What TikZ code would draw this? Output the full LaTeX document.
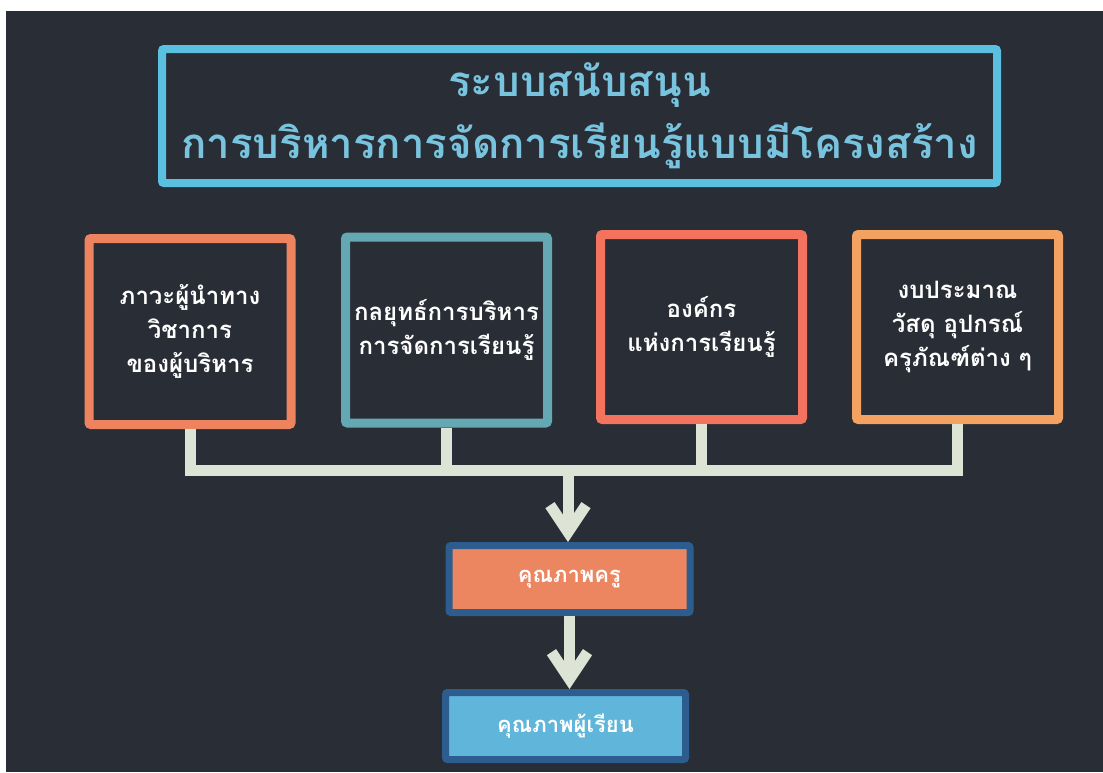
\documentclass[tikz,border=0pt]{standalone}
\usepackage{fontspec}
\newfontfamily\thai[Script=Thai]{Loma}
\usetikzlibrary{arrows.meta}
\definecolor{bg}{HTML}{292D35}
\definecolor{titleblue}{HTML}{5BBFE0}
\definecolor{titletext}{HTML}{78C3DE}
\definecolor{cA}{HTML}{EE835F}
\definecolor{cB}{HTML}{63A8B2}
\definecolor{cC}{HTML}{F4735E}
\definecolor{cD}{HTML}{F4A261}
\definecolor{conn}{HTML}{DDE3D5}
\definecolor{qborder}{HTML}{2D5D8E}
\definecolor{qorange}{HTML}{EC8660}
\definecolor{qblue}{HTML}{5FB6DA}
\tikzset{
  topbox/.style={draw=#1, line width=9pt, fill=bg, rounded corners=2pt,
    minimum width=202pt, minimum height=186pt, inner sep=0pt,
    text=white, align=center, font=\thai\bfseries\fontsize{24}{34}\selectfont},
  qbox/.style={draw=qborder, line width=7pt, fill=#1, rounded corners=2pt,
    minimum width=241pt, minimum height=67pt, inner sep=0pt,
    text=white, font=\thai\bfseries\fontsize{22}{26}\selectfont},
  connline/.style={draw=conn, line width=11pt, line join=miter},
  arrowline/.style={draw=conn, line width=11pt,
    -{Straight Barb[length=27pt, width=36pt]}}
}
\begin{document}
\begin{tikzpicture}[x=1pt,y=-1pt]
\useasboundingbox (0,0) rectangle (1103,772);
\fill[white] (0,0) rectangle (1103,772);
\fill[bg] (6,11) rectangle (1103,772);

\node[draw=titleblue, line width=8pt, rounded corners=2pt,
  minimum width=835pt, minimum height=134pt, inner sep=0pt,
  text=titletext, align=center,
  font=\thai\bfseries\fontsize{42}{62}\selectfont] (title) at (579.5,116)
  {ระบบสนับสนุน\\การบริหารการจัดการเรียนรู้แบบมีโครงสร้าง};

\node[topbox=cA] (b1) at (190,331.5) {ภาวะผู้นำทาง\\วิชาการ\\ของผู้บริหาร};
\node[topbox=cB] (b2) at (446.5,330) {กลยุทธ์การบริหาร\\การจัดการเรียนรู้};
\node[topbox=cC, minimum height=185pt] (b3) at (701.5,327) {องค์กร\\แห่งการเรียนรู้};
\node[topbox=cD, minimum height=185pt] (b4) at (957.5,327) {งบประมาณ\\วัสดุ อุปกรณ์\\ครุภัณฑ์ต่าง ๆ};

\node[qbox=qorange] (q1) at (569.5,579) {คุณภาพครู};
\node[qbox=qblue, minimum width=240pt] (q2) at (565.5,726) {คุณภาพผู้เรียน};

\coordinate (bary) at (0,470);
\coordinate (barmid) at (568,470);
\draw[connline] (b1.south) -- (b1.south |- bary) -- (b4.south |- bary) -- (b4.south);
\draw[connline] (b2.south) -- (b2.south |- bary);
\draw[connline] (b3.south) -- (b3.south |- bary);
\draw[arrowline] (barmid) -- (barmid |- q1.north);
\draw[arrowline] (q1.south) -- (q1.south |- q2.north);
\end{tikzpicture}
\end{document}
